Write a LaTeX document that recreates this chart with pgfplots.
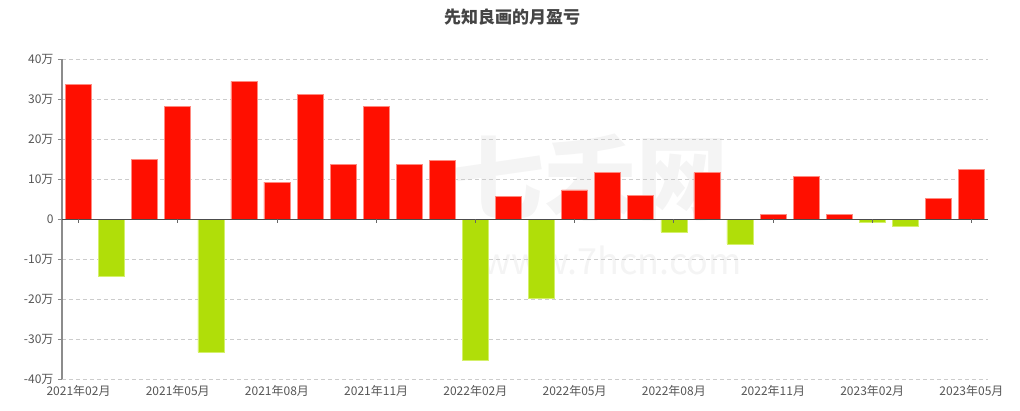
\documentclass[border=0pt]{standalone}
\usepackage{fontspec}
\setmainfont{Noto Sans CJK SC}
\usepackage{pgfplots}
\pgfplotsset{compat=1.18}
\definecolor{barred}{HTML}{FF0F00}
\definecolor{barredE}{HTML}{FF8A80}
\definecolor{bargreen}{HTML}{B0DE09}
\definecolor{bargreenE}{HTML}{D4F06A}
\definecolor{txt}{HTML}{555555}
\definecolor{gridc}{HTML}{CCCCCC}
\definecolor{wm}{HTML}{F4F4F4}
\begin{document}
\begin{tikzpicture}
\useasboundingbox (0pt,0pt) rectangle (1020pt,410pt);
% watermark
\node[text=wm, font=\fontsize{92}{92}\selectfont\bfseries] at (590pt,232pt) {七禾网};
\node[text=wm, font=\fontsize{36}{36}\selectfont] at (612pt,150pt) {www.7hcn.com};
\node[text=txt!80!black, font=\fontsize{17}{19}\selectfont\bfseries] at (512pt,393pt) {先知良画的月盈亏};
\begin{axis}[
  at={(62pt,31pt)}, anchor=south west,
  scale only axis, width=926pt, height=320pt,
  xmin=-0.5, xmax=27.5, ymin=-40, ymax=40,
  axis x line=bottom, axis y line=left,
  x axis line style={draw=none, -},
  y axis line style={draw=black!45, line width=1.2pt, -},
  ytick={-40,-30,...,40},
  yticklabels={-40万,-30万,-20万,-10万,0,10万,20万,30万,40万},
  xtick={0,3,...,27},
  xticklabels={2021年02月,2021年05月,2021年08月,2021年11月,2022年02月,2022年05月,2022年08月,2022年11月,2023年02月,2023年05月},
  major x tick style={draw=none},
  major y tick style={draw=black!45, line width=0.8pt},
  tick align=outside, major tick length=4pt,
  ymajorgrids, grid style={gridc, dash pattern=on 4pt off 3pt, line width=0.7pt},
  tick label style={text=txt, font=\fontsize{12}{14}\selectfont},
  xticklabel style={yshift=1pt},
  yticklabel style={xshift=-1pt},
  ybar, bar width=26pt, bar shift=0pt,
  clip=false,
]
\addplot[fill=barred, draw=barredE, line width=0.6pt] coordinates {
(0,33.7) (2,15.0) (3,28.2) (5,34.4) (6,9.2) (7,31.25) (8,13.75) (9,28.2)
(10,13.75) (11,14.75) (13,5.7) (15,7.3) (16,11.7) (17,5.9) (19,11.6)
(21,1.25) (22,10.7) (23,1.1) (26,5.2) (27,12.4)
};
\addplot[fill=bargreen, draw=bargreenE, line width=0.6pt] coordinates {
(1,-14.25) (4,-33.3) (12,-35.2) (14,-19.75) (18,-3.25) (20,-6.2) (24,-0.7) (25,-1.75)
};
\draw[black!70, line width=0.8pt] (axis cs:-0.5,0) -- (axis cs:27.5,0);
\pgfplotsinvokeforeach{0,3,...,27}{
  \draw[black!60, line width=0.8pt] (axis cs:#1,0) -- ++(0pt,-4pt);
}
\end{axis}
\end{tikzpicture}
\end{document}
